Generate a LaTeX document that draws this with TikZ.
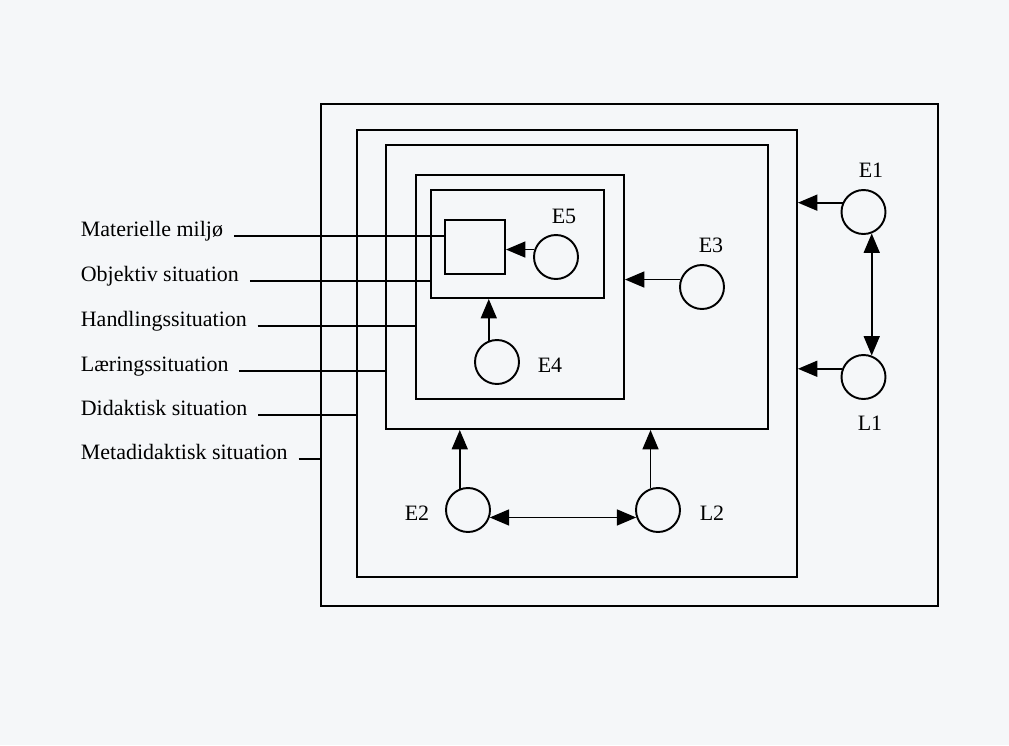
\documentclass[tikz,border=0pt]{standalone}
\usepackage{fontspec}
\setmainfont{Liberation Serif}
\usetikzlibrary{arrows.meta}
\definecolor{paper}{RGB}{245,247,249}

\begin{document}
\begin{tikzpicture}[
    x=0.02cm, y=-0.02cm,
    frame/.style={draw, line width=1.1pt, inner sep=0pt},
    actor/.style={draw, circle, line width=1.1pt, minimum size=0.88cm,
                  inner sep=0pt},
    flow/.style={-{Triangle[length=11pt, width=9pt]}, line width=1.1pt},
    mutual/.style={{Triangle[length=11pt, width=9pt]}-{Triangle[length=11pt, width=9pt]},
                   line width=1.1pt},
    tag/.style={font=\fontsize{12.5}{15}\selectfont},
    level/.style={tag, anchor=base west, inner xsep=6pt},
    lead/.style={line width=1.1pt},
]
    \fill[paper] (0, 0) rectangle (1009, 745);

    % nested situations
    \node[frame, minimum width=12.34cm, minimum height=10.04cm] (meta) at (629.5, 355) {};
    \node[frame, minimum width=8.8cm, minimum height=8.94cm] (did) at (577, 353.5) {};
    \node[frame, minimum width=7.64cm, minimum height=5.68cm] (laer) at (577, 287) {};
    \node[frame, minimum width=4.16cm, minimum height=4.48cm] (hand) at (520, 287) {};
    \node[frame, minimum width=3.46cm, minimum height=2.16cm] (obj) at (517.5, 244) {};
    \node[frame, minimum width=1.2cm, minimum height=1.08cm] (mat) at (475, 247) {};

    % actors
    \node[actor] (e1) at (863.5, 212) {};
    \node[actor] (l1) at (863.5, 377) {};
    \node[actor] (e2) at (468, 510) {};
    \node[actor] (l2) at (658, 510) {};
    \node[actor] (e3) at (702, 287) {};
    \node[actor] (e4) at (497, 362) {};
    \node[actor] (e5) at (556, 257) {};
    \node[tag] (te1) at (871, 170) {E1};
    \node[tag] (tl1) at (870, 423) {L1};
    \node[tag] (te2) at (417, 513) {E2};
    \node[tag] (tl2) at (712, 513) {L2};
    \node[tag] (te3) at (711, 245) {E3};
    \node[tag] (te4) at (550, 365) {E4};
    \node[tag] (te5) at (564, 216) {E5};

    \draw[flow] (e1.156) -- (e1.156 -| did.east);
    \draw[flow] (l1.159) -- (l1.159 -| did.east);
    \draw[mutual] (e1.-69) -- (l1.69);
    \draw[flow] (e2.111) -- (e2.111 |- laer.south);
    \draw[flow] (l2.109) -- (l2.109 |- laer.south);
    \draw[mutual] (e2.-19) -- (l2.199);
    \draw[flow] (e3.161) -- (e3.161 -| hand.east);
    \draw[flow] (e4.111) -- (e4.111 |- obj.south);
    \draw[flow] (e5.161) -- (e5.161 -| mat.east);

    % level names
    \node[level] (lmat) at (70, 236) {Materielle miljø};
    \node[level] (lobj) at (70, 281) {Objektiv situation};
    \node[level] (lhand) at (70, 326) {Handlingssituation};
    \node[level] (llaer) at (70, 371) {Læringssituation};
    \node[level] (ldid) at (70, 415) {Didaktisk situation};
    \node[level] (lmeta) at (70, 459) {Metadidaktisk situation};

    \draw[lead] (lmat.base east) -- (lmat.base east -| mat.west);
    \draw[lead] (lobj.base east) -- (lobj.base east -| obj.west);
    \draw[lead] (lhand.base east) -- (lhand.base east -| hand.west);
    \draw[lead] (llaer.base east) -- (llaer.base east -| laer.west);
    \draw[lead] (ldid.base east) -- (ldid.base east -| did.west);
    \draw[lead] (lmeta.base east) -- (lmeta.base east -| meta.west);
\end{tikzpicture}
\end{document}
